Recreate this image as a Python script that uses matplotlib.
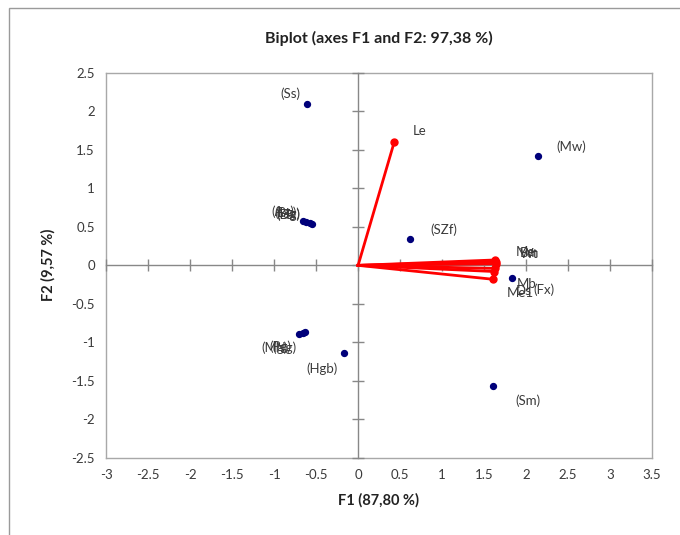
import numpy as np
import matplotlib.pyplot as plt
from matplotlib.patches import Rectangle

plt.rcParams['font.family'] = ['Lato', 'DejaVu Sans']

# Observaciones (puntos azules)
obs_names = ['(Ss)', '(Mw)', '(SZf)', '(Sm)', '(Hgb)', '(Fx)',
             '(Ag)', '(Bg)', '(Dg)', '(Hg)',
             '(Mg)', '(Pg)', '(Ng)']
obs_f1 = [-0.61, 2.14, 0.62, 1.61, -0.17, 1.83,
          -0.66, -0.62, -0.57, -0.55,
          -0.70, -0.66, -0.63]
obs_f2 = [2.10, 1.42, 0.34, -1.56, -1.14, -0.16,
          0.57, 0.56, 0.55, 0.54,
          -0.89, -0.88, -0.87]
# desplazamiento de etiquetas (puntos tipograficos)
obs_off = [(-12, 7), (24, 7), (24, 7), (25, -11), (-16, -11), (23, -9),
           (-14, 7), (-15, 7), (-16, 6), (-17, 7),
           (-18, -10), (-16, -10), (-15, -11)]

# Variables (vectores rojos)
var_names = ['Le', 'Me', 'Bm', 'Wt', 'Mb', 'Ds', 'Me1']
var_f1 = [0.43, 1.63, 1.64, 1.64, 1.63, 1.62, 1.60]
var_f2 = [1.60, 0.07, 0.05, 0.02, -0.04, -0.08, -0.18]
var_off = [(18, 8), (22, 6), (24, 6), (24, 7), (23, -11), (21, -14), (20, -10)]

xticks = np.arange(-3, 3.51, 0.5)
yticks = np.arange(-2.5, 2.51, 0.5)

fig = plt.figure(figsize=(6.8, 5.35), dpi=100)
fig.patches.append(Rectangle((0.013, -0.05), 1.1, 1.035, transform=fig.transFigure,
                             fill=False, edgecolor='#9a9a9a', linewidth=1.0))

pos = [0.156, 0.144, 0.803, 0.72]
ax = fig.add_axes(pos)
ax.set_xlim(-3, 3.5)
ax.set_ylim(-2.5, 2.5)
ax.set_xticks(xticks)
ax.set_yticks(yticks)
ax.set_xticklabels(['%g' % t for t in xticks])
ax.set_yticklabels(['%g' % t for t in yticks])
ax.tick_params(length=0, labelsize=9.5, colors='#3a3a3a', pad=8)
for s in ax.spines.values():
    s.set_color('#a8a8a8')
    s.set_linewidth(1.0)

# ejes que se cruzan en cero con marcas
ax2 = fig.add_axes(pos, sharex=ax, sharey=ax)
ax2.patch.set_alpha(0)
ax2.spines['left'].set_position(('data', 0))
ax2.spines['bottom'].set_position(('data', 0))
ax2.spines['right'].set_visible(False)
ax2.spines['top'].set_visible(False)
for k in ['left', 'bottom']:
    ax2.spines[k].set_color('#888888')
    ax2.spines[k].set_linewidth(1.0)
ax2.tick_params(direction='inout', length=8, width=1, color='#888888',
                labelleft=False, labelbottom=False)

# vectores
for n, x, y, off in zip(var_names, var_f1, var_f2, var_off):
    ax2.plot([0, x], [0, y], color='red', linewidth=2, zorder=3)
    ax2.plot([x], [y], 'o', color='red', markersize=5, zorder=4)
    ax2.annotate(n, (x, y), xytext=off, textcoords='offset points',
                 ha='center', va='center', fontsize=9.5, color='#3a3a3a')

# observaciones
ax2.scatter(obs_f1, obs_f2, s=18, color='#00007a', zorder=5)
for n, x, y, off in zip(obs_names, obs_f1, obs_f2, obs_off):
    ax2.annotate(n, (x, y), xytext=off, textcoords='offset points',
                 ha='center', va='center', fontsize=9.5, color='#3a3a3a')

fig.text(0.557, 0.928, 'Biplot (axes F1 and F2: 97,38 %)', ha='center', va='center',
         fontsize=11.5, fontweight='bold', color='#222222')
fig.text(0.557, 0.065, 'F1 (87,80 %)', ha='center', va='center',
         fontsize=10.5, fontweight='bold', color='#222222')
fig.text(0.071, 0.505, 'F2 (9,57 %)', ha='center', va='center', rotation=90,
         fontsize=10.5, fontweight='bold', color='#222222')

fig.savefig('out.png', dpi=100)
